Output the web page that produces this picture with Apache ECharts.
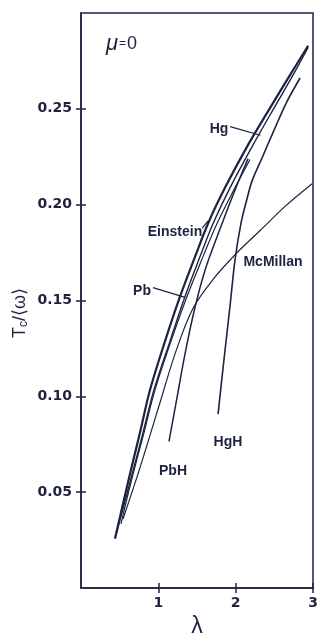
<!DOCTYPE html>
<html>
<head>
<meta charset="utf-8">
<script src="https://cdn.jsdelivr.net/npm/echarts@6/dist/echarts.min.js"></script>
<style>
html,body{margin:0;padding:0;background:#ffffff;}
#chart{width:321px;height:643px;}
</style>
</head>
<body>
<div id="chart"></div>
<script>
// ---- data ----
const einsteinX = [0.44, 0.608, 0.763, 0.893, 1.087, 1.281, 1.475, 1.643, 1.863, 2.16, 2.445, 2.704, 2.937];
const einsteinY = [0.0258, 0.0552, 0.0811, 0.1034, 0.1288, 0.1521, 0.1729, 0.1902, 0.2089, 0.2312, 0.2505, 0.2677, 0.2829];

const hgX = [0.44, 0.634, 0.802, 0.944, 1.151, 1.345, 1.539, 1.708, 1.928, 2.225, 2.497, 2.743, 2.937];
const hgY = [0.0258, 0.0552, 0.0811, 0.1034, 0.1288, 0.1521, 0.1729, 0.1902, 0.2089, 0.2312, 0.2505, 0.2677, 0.2820];

const pbX = [0.517, 0.647, 0.815, 0.957, 1.164, 1.371, 1.578, 1.759, 1.992, 2.186];
const pbY = [0.0334, 0.0552, 0.0811, 0.1034, 0.1288, 0.1521, 0.1729, 0.1902, 0.2089, 0.2236];

const pbhX = [1.138, 1.242, 1.345, 1.465, 1.605, 1.79, 1.975, 2.16];
const pbhY = [0.0765, 0.0994, 0.1221, 0.1449, 0.1659, 0.1865, 0.2060, 0.2240];

const hghX = [1.772, 1.85, 1.928, 1.992, 2.07, 2.148, 2.212, 2.342, 2.484, 2.652, 2.833];
const hghY = [0.0907, 0.1196, 0.1475, 0.1713, 0.1905, 0.2032, 0.2124, 0.2245, 0.2377, 0.2529, 0.2661];

const mcmillanX = [0.543, 0.763, 1.022, 1.229, 1.449, 1.721, 2.005, 2.316, 2.639, 2.988];
const mcmillanY = [0.036, 0.0628, 0.0968, 0.1237, 0.146, 0.1617, 0.1744, 0.1865, 0.1991, 0.2109];

// leader lines for labels (data coordinates)
const hgLeader = [[1.928, 0.2407], [2.32, 0.2362]];
const pbLeader = [[0.931, 0.1567], [1.345, 0.1516]];
const einsteinLeader = [[1.565, 0.1876], [1.643, 0.1916]];

const xTicks = [1, 2, 3];
const yTicks = [0.05, 0.10, 0.15, 0.20, 0.25];

// ---- chart ----
const zip = (xs, ys) => xs.map((x, i) => [x, ys[i]]);
const INK = '#1c2340';
const FONT = '"Liberation Sans", Arial, sans-serif';
const TICKFONT = '"DejaVu Sans", sans-serif';

function curve(name, xs, ys, width, leader) {
  const s = {
    name, type: 'line', data: zip(xs, ys), smooth: 0.35, symbol: 'none',
    lineStyle: { color: INK, width }, silent: true, z: 3
  };
  if (leader) {
    s.markLine = {
      silent: true, symbol: 'none', label: { show: false },
      lineStyle: { color: INK, width: 1.2, type: 'solid' },
      data: [[{ coord: leader[0] }, { coord: leader[1] }]]
    };
  }
  return s;
}

const chart = echarts.init(document.getElementById('chart'), null, { renderer: 'canvas' });
const grid = { left: 81, top: 13, width: 232, height: 591, show: true, borderColor: INK, borderWidth: 1.5, backgroundColor: 'transparent' };

const axisCommon = {
  type: 'value', splitLine: { show: false },
  axisLine: { show: true, lineStyle: { color: INK, width: 1.5 } }
};

chart.setOption({
  backgroundColor: '#ffffff',
  animation: false,
  grid,
  xAxis: [
    Object.assign({}, axisCommon, {
      min: 0, max: 3, interval: 1, position: 'bottom',
      axisTick: { show: true, inside: false, length: 5, lineStyle: { color: INK, width: 1.5 }, customValues: xTicks },
      axisLabel: { show: true, margin: 8, color: INK, fontSize: 14, fontWeight: 'bold', fontFamily: TICKFONT, customValues: xTicks },
      name: 'λ', nameLocation: 'middle', nameGap: 27,
      nameTextStyle: { fontSize: 23, color: INK, fontFamily: FONT }
    }),
    Object.assign({}, axisCommon, {
      min: 0, max: 3, interval: 1, position: 'bottom',
      axisLine: { show: false },
      axisTick: { show: true, inside: true, length: 5, lineStyle: { color: INK, width: 1.5 }, customValues: xTicks },
      axisLabel: { show: false }
    })
  ],
  yAxis: [
    Object.assign({}, axisCommon, {
      min: 0, max: 0.3, interval: 0.05, position: 'left',
      axisTick: { show: true, inside: false, length: 5, lineStyle: { color: INK, width: 1.5 }, customValues: yTicks },
      axisLabel: { show: true, margin: 9, color: INK, fontSize: 14, fontWeight: 'bold', fontFamily: TICKFONT, customValues: yTicks,
        formatter: v => v.toFixed(2) }
    }),
    Object.assign({}, axisCommon, {
      min: 0, max: 0.3, interval: 0.05, position: 'left',
      axisLine: { show: false },
      axisTick: { show: true, inside: true, length: 5, lineStyle: { color: INK, width: 1.5 }, customValues: yTicks },
      axisLabel: { show: false }
    })
  ],
  series: [
    curve('Einstein', einsteinX, einsteinY, 2.2, einsteinLeader),
    curve('Hg', hgX, hgY, 1.4, hgLeader),
    curve('Pb', pbX, pbY, 1.2, pbLeader),
    curve('PbH', pbhX, pbhY, 1.5, null),
    curve('HgH', hghX, hghY, 1.6, null),
    curve('McMillan', mcmillanX, mcmillanY, 1.2, null)
  ],
  graphic: [
    { type: 'text', x: 106, y: 44, style: {
        text: '{m|μ}{e|=}{z|0}', fill: INK, verticalAlign: 'middle', align: 'left',
        rich: {
          m: { fontSize: 22, fontStyle: 'italic', fontFamily: FONT, fill: INK },
          e: { fontSize: 12, fontFamily: FONT, fill: INK, padding: [0, 1, 0, 1] },
          z: { fontSize: 18, fontFamily: FONT, fill: INK }
        } } },
    { type: 'text', x: 20, y: 313, rotation: Math.PI / 2, style: {
        text: '{t|T}{s|c}{t|/⟨ω⟩}', fill: INK, align: 'center', verticalAlign: 'middle',
        rich: {
          t: { fontSize: 18, fontFamily: FONT, fill: INK },
          s: { fontSize: 12, fontFamily: FONT, fill: INK, verticalAlign: 'bottom', padding: [7, 0, 0, 0] }
        } } },
    { type: 'text', x: 219, y: 129, style: { text: 'Hg', fill: INK, font: 'bold 14px ' + FONT, align: 'center', verticalAlign: 'middle' } },
    { type: 'text', x: 175, y: 232, style: { text: 'Einstein', fill: INK, font: 'bold 14px ' + FONT, align: 'center', verticalAlign: 'middle' } },
    { type: 'text', x: 273, y: 262, style: { text: 'McMillan', fill: INK, font: 'bold 14px ' + FONT, align: 'center', verticalAlign: 'middle' } },
    { type: 'text', x: 142, y: 291, style: { text: 'Pb', fill: INK, font: 'bold 14px ' + FONT, align: 'center', verticalAlign: 'middle' } },
    { type: 'text', x: 173, y: 471, style: { text: 'PbH', fill: INK, font: 'bold 14px ' + FONT, align: 'center', verticalAlign: 'middle' } },
    { type: 'text', x: 228, y: 442, style: { text: 'HgH', fill: INK, font: 'bold 14px ' + FONT, align: 'center', verticalAlign: 'middle' } }
  ]
});
</script>
</body>
</html>
